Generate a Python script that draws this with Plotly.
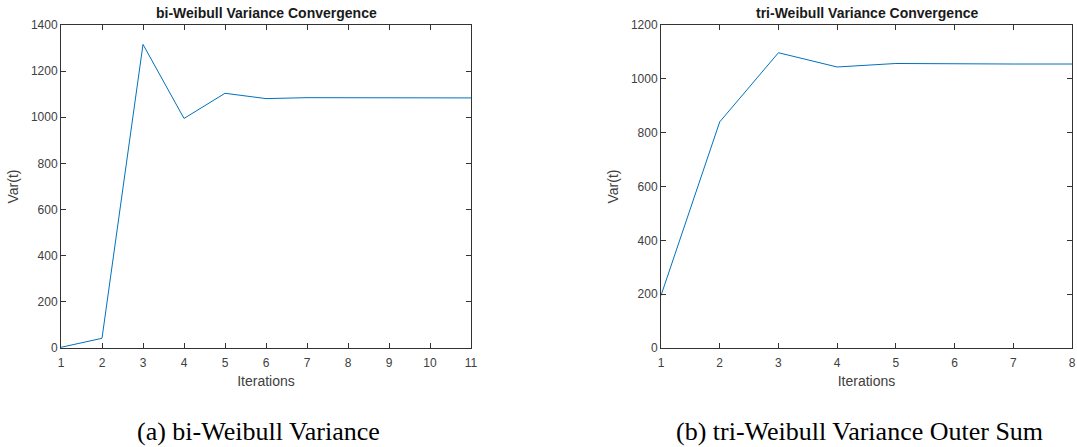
import plotly.graph_objects as go

iters_a = [1, 2, 3, 4, 5, 6, 7, 8, 9, 10, 11]
var_a = [3, 42, 1316, 995, 1104, 1081, 1085, 1084, 1084, 1084, 1084]
iters_b = [1, 2, 3, 4, 5, 6, 7, 8]
var_b = [195, 840, 1097, 1044, 1057, 1055, 1055, 1055]

titles = ["bi-Weibull Variance Convergence", "tri-Weibull Variance Convergence"]
captions = ["(a) bi-Weibull Variance", "(b) tri-Weibull Variance Outer Sum"]

W, H = 1077, 447
line_color = "#0072BD"
axis_color = "#333333"
tick_font = dict(family="Liberation Sans, Arial", size=12, color="#404040")
label_font = dict(family="Liberation Sans, Arial", size=14, color="#404040")

fig = go.Figure()
fig.add_trace(go.Scatter(x=iters_a, y=var_a, mode="lines", line=dict(color=line_color, width=1),
                         xaxis="x", yaxis="y", showlegend=False))
fig.add_trace(go.Scatter(x=iters_b, y=var_b, mode="lines", line=dict(color=line_color, width=1),
                         xaxis="x2", yaxis="y2", showlegend=False))

ydom = [(447 - 348) / H, (447 - 25) / H]
xdom1 = [61 / W, 471 / W]
xdom2 = [661 / W, 1072 / W]

common = dict(showline=True, linecolor=axis_color, linewidth=1, mirror="ticks", ticks="inside",
              ticklen=5, tickcolor=axis_color, showgrid=False, zeroline=False, tickfont=tick_font,
              automargin=False)
xcommon = dict(common, ticklabelstandoff=4)

fig.update_layout(
    width=W, height=H, margin=dict(l=0, r=0, t=0, b=0),
    paper_bgcolor="white", plot_bgcolor="white",
    xaxis=dict(domain=xdom1, range=[1, 11], dtick=1, anchor="y",
               title=dict(text="Iterations", font=label_font, standoff=6), **xcommon),
    yaxis=dict(domain=ydom, range=[0, 1400], dtick=200, anchor="x",
               title=dict(text="Var(t)", font=label_font, standoff=8), **common),
    xaxis2=dict(domain=xdom2, range=[1, 8], dtick=1, anchor="y2",
                title=dict(text="Iterations", font=label_font, standoff=6), **xcommon),
    yaxis2=dict(domain=ydom, range=[0, 1200], dtick=200, anchor="x2",
                title=dict(text="Var(t)", font=label_font, standoff=8), **common),
)

for t, xd in zip(titles, [xdom1, xdom2]):
    fig.add_annotation(text="<b>" + t + "</b>", x=(xd[0] + xd[1]) / 2, y=1 - 13 / H, xref="paper", yref="paper",
                       showarrow=False, font=dict(family="Liberation Sans, Arial", size=14, color="#1a1a1a"),
                       xanchor="center", yanchor="middle")

cap_x = [258 / W, 859 / W]
for c, cx in zip(captions, cap_x):
    fig.add_annotation(text=c, x=cx, y=1 - 431 / H, xref="paper", yref="paper", showarrow=False,
                       font=dict(family="Liberation Serif, Times New Roman", size=26, color="black"),
                       xanchor="center", yanchor="middle")

fig.write_html("out.html")
